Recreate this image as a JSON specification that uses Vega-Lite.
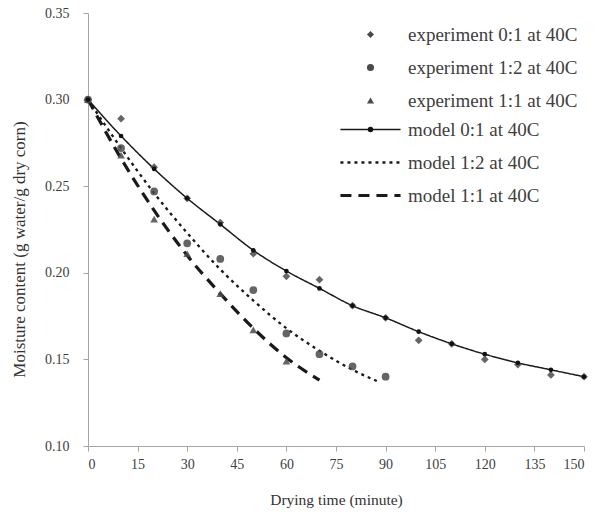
{
  "$schema": "https://vega.github.io/schema/vega-lite/v6.json",
  "autosize": "none",
  "width": 496,
  "height": 433,
  "padding": {"left": 88, "top": 13, "right": 29, "bottom": 66},
  "background": "white",
  "config": {
    "view": {"stroke": null},
    "font": "Liberation Serif",
    "axis": {
      "grid": false,
      "domainColor": "#a6a6a6",
      "tickColor": "#a6a6a6",
      "tickSize": 5,
      "labelFont": "Liberation Serif",
      "labelFontSize": 14,
      "labelColor": "#404040",
      "titleFont": "Liberation Serif",
      "titleFontWeight": "normal",
      "titleColor": "#333333"
    },
    "legend": {
      "labelFont": "Liberation Serif",
      "labelFontSize": 19,
      "labelColor": "#404040",
      "labelLimit": 300,
      "symbolOpacity": 1
    }
  },
  "data": {
    "values": [
      {"series": "experiment 0:1 at 40C", "kind": "exp", "t": 0, "m": 0.300},
      {"series": "experiment 0:1 at 40C", "kind": "exp", "t": 10, "m": 0.289},
      {"series": "experiment 0:1 at 40C", "kind": "exp", "t": 20, "m": 0.261},
      {"series": "experiment 0:1 at 40C", "kind": "exp", "t": 30, "m": 0.243},
      {"series": "experiment 0:1 at 40C", "kind": "exp", "t": 40, "m": 0.229},
      {"series": "experiment 0:1 at 40C", "kind": "exp", "t": 50, "m": 0.211},
      {"series": "experiment 0:1 at 40C", "kind": "exp", "t": 60, "m": 0.198},
      {"series": "experiment 0:1 at 40C", "kind": "exp", "t": 70, "m": 0.196},
      {"series": "experiment 0:1 at 40C", "kind": "exp", "t": 80, "m": 0.181},
      {"series": "experiment 0:1 at 40C", "kind": "exp", "t": 90, "m": 0.174},
      {"series": "experiment 0:1 at 40C", "kind": "exp", "t": 100, "m": 0.161},
      {"series": "experiment 0:1 at 40C", "kind": "exp", "t": 110, "m": 0.159},
      {"series": "experiment 0:1 at 40C", "kind": "exp", "t": 120, "m": 0.150},
      {"series": "experiment 0:1 at 40C", "kind": "exp", "t": 130, "m": 0.147},
      {"series": "experiment 0:1 at 40C", "kind": "exp", "t": 140, "m": 0.141},
      {"series": "experiment 0:1 at 40C", "kind": "exp", "t": 150, "m": 0.140},
      {"series": "experiment 1:2 at 40C", "kind": "exp", "t": 0, "m": 0.300},
      {"series": "experiment 1:2 at 40C", "kind": "exp", "t": 10, "m": 0.272},
      {"series": "experiment 1:2 at 40C", "kind": "exp", "t": 20, "m": 0.247},
      {"series": "experiment 1:2 at 40C", "kind": "exp", "t": 30, "m": 0.217},
      {"series": "experiment 1:2 at 40C", "kind": "exp", "t": 40, "m": 0.208},
      {"series": "experiment 1:2 at 40C", "kind": "exp", "t": 50, "m": 0.190},
      {"series": "experiment 1:2 at 40C", "kind": "exp", "t": 60, "m": 0.165},
      {"series": "experiment 1:2 at 40C", "kind": "exp", "t": 70, "m": 0.153},
      {"series": "experiment 1:2 at 40C", "kind": "exp", "t": 80, "m": 0.146},
      {"series": "experiment 1:2 at 40C", "kind": "exp", "t": 90, "m": 0.140},
      {"series": "experiment 1:1 at 40C", "kind": "exp", "t": 0, "m": 0.300},
      {"series": "experiment 1:1 at 40C", "kind": "exp", "t": 10, "m": 0.268},
      {"series": "experiment 1:1 at 40C", "kind": "exp", "t": 20, "m": 0.231},
      {"series": "experiment 1:1 at 40C", "kind": "exp", "t": 30, "m": 0.211},
      {"series": "experiment 1:1 at 40C", "kind": "exp", "t": 40, "m": 0.188},
      {"series": "experiment 1:1 at 40C", "kind": "exp", "t": 50, "m": 0.167},
      {"series": "experiment 1:1 at 40C", "kind": "exp", "t": 60, "m": 0.149},
      {"series": "model 0:1 at 40C", "kind": "model", "t": 0, "m": 0.300},
      {"series": "model 0:1 at 40C", "kind": "model", "t": 10, "m": 0.279},
      {"series": "model 0:1 at 40C", "kind": "model", "t": 20, "m": 0.260},
      {"series": "model 0:1 at 40C", "kind": "model", "t": 30, "m": 0.243},
      {"series": "model 0:1 at 40C", "kind": "model", "t": 40, "m": 0.228},
      {"series": "model 0:1 at 40C", "kind": "model", "t": 50, "m": 0.213},
      {"series": "model 0:1 at 40C", "kind": "model", "t": 60, "m": 0.201},
      {"series": "model 0:1 at 40C", "kind": "model", "t": 70, "m": 0.191},
      {"series": "model 0:1 at 40C", "kind": "model", "t": 80, "m": 0.181},
      {"series": "model 0:1 at 40C", "kind": "model", "t": 90, "m": 0.174},
      {"series": "model 0:1 at 40C", "kind": "model", "t": 100, "m": 0.166},
      {"series": "model 0:1 at 40C", "kind": "model", "t": 110, "m": 0.159},
      {"series": "model 0:1 at 40C", "kind": "model", "t": 120, "m": 0.153},
      {"series": "model 0:1 at 40C", "kind": "model", "t": 130, "m": 0.148},
      {"series": "model 0:1 at 40C", "kind": "model", "t": 140, "m": 0.144},
      {"series": "model 0:1 at 40C", "kind": "model", "t": 150, "m": 0.140},
      {"series": "model 1:2 at 40C", "kind": "model", "t": 0, "m": 0.300},
      {"series": "model 1:2 at 40C", "kind": "model", "t": 10, "m": 0.272},
      {"series": "model 1:2 at 40C", "kind": "model", "t": 20, "m": 0.246},
      {"series": "model 1:2 at 40C", "kind": "model", "t": 30, "m": 0.223},
      {"series": "model 1:2 at 40C", "kind": "model", "t": 40, "m": 0.202},
      {"series": "model 1:2 at 40C", "kind": "model", "t": 50, "m": 0.184},
      {"series": "model 1:2 at 40C", "kind": "model", "t": 60, "m": 0.168},
      {"series": "model 1:2 at 40C", "kind": "model", "t": 70, "m": 0.155},
      {"series": "model 1:2 at 40C", "kind": "model", "t": 80, "m": 0.144},
      {"series": "model 1:2 at 40C", "kind": "model", "t": 88, "m": 0.137},
      {"series": "model 1:1 at 40C", "kind": "model", "t": 0, "m": 0.300},
      {"series": "model 1:1 at 40C", "kind": "model", "t": 10, "m": 0.266},
      {"series": "model 1:1 at 40C", "kind": "model", "t": 20, "m": 0.236},
      {"series": "model 1:1 at 40C", "kind": "model", "t": 30, "m": 0.210},
      {"series": "model 1:1 at 40C", "kind": "model", "t": 40, "m": 0.188},
      {"series": "model 1:1 at 40C", "kind": "model", "t": 50, "m": 0.168},
      {"series": "model 1:1 at 40C", "kind": "model", "t": 60, "m": 0.151},
      {"series": "model 1:1 at 40C", "kind": "model", "t": 70, "m": 0.138}
    ]
  },
  "encoding": {
    "x": {
      "field": "t", "type": "quantitative",
      "scale": {"domain": [0, 150], "nice": false, "zero": false},
      "axis": {"title": "Drying time (minute)", "values": [0, 15, 30, 45, 60, 75, 90, 105, 120, 135, 150], "labelPadding": 6, "titlePadding": 21, "titleFontSize": 15.5}
    },
    "y": {
      "field": "m", "type": "quantitative",
      "scale": {"domain": [0.10, 0.35], "nice": false, "zero": false},
      "axis": {"title": "Moisture content (g water/g dry corn)", "values": [0.10, 0.15, 0.20, 0.25, 0.30, 0.35], "format": ".2f", "labelPadding": 14, "titlePadding": 16, "titleFontSize": 17, "titleY": 236}
    }
  },
  "layer": [
    {
      "transform": [{"filter": "datum.kind == 'model'"}],
      "mark": {"type": "line", "interpolate": "monotone", "color": "#1a1a1a"},
      "encoding": {
        "detail": {"field": "series"},
        "strokeDash": {
          "field": "series",
          "scale": {"domain": ["model 0:1 at 40C", "model 1:2 at 40C", "model 1:1 at 40C"], "range": [[1, 0], [3, 4], [11, 7]]},
          "legend": {"title": null, "orient": "none", "legendX": 273, "legendY": 107, "symbolSize": 50, "symbolType": "M-8.5,0L8.5,0", "symbolStrokeWidth": 2.3, "symbolStrokeColor": "#1a1a1a", "labelOffset": 28, "rowPadding": 13}
        },
        "strokeWidth": {
          "field": "series",
          "scale": {"domain": ["model 0:1 at 40C", "model 1:2 at 40C", "model 1:1 at 40C"], "range": [1.5, 3.2, 3.2]},
          "legend": null
        }
      }
    },
    {
      "transform": [{"filter": "datum.kind == 'exp'"}],
      "mark": {"type": "point", "filled": true, "color": "#4a4a4a", "opacity": 0.85, "size": 60},
      "encoding": {
        "shape": {
          "field": "series",
          "scale": {
            "domain": ["experiment 0:1 at 40C", "experiment 1:2 at 40C", "experiment 1:1 at 40C"],
            "range": ["diamond", "circle", "triangle-up"]
          },
          "legend": {"title": null, "orient": "none", "legendX": 273, "legendY": 12, "symbolSize": 50, "symbolFillColor": "#333333", "labelOffset": 28, "rowPadding": 13}
        }
      }
    },
    {
      "transform": [{"filter": "datum.series == 'model 0:1 at 40C'"}],
      "mark": {"type": "point", "filled": true, "shape": "circle", "opacity": 1, "size": 22},
      "encoding": {
        "color": {
          "field": "series",
          "scale": {"domain": ["model 0:1 at 40C"], "range": ["#111111"]},
          "legend": {"title": null, "orient": "none", "legendX": 273, "legendY": 107, "symbolSize": 30, "symbolType": "circle", "labelExpr": "''", "labelOffset": 28}
        }
      }
    }
  ]
}
